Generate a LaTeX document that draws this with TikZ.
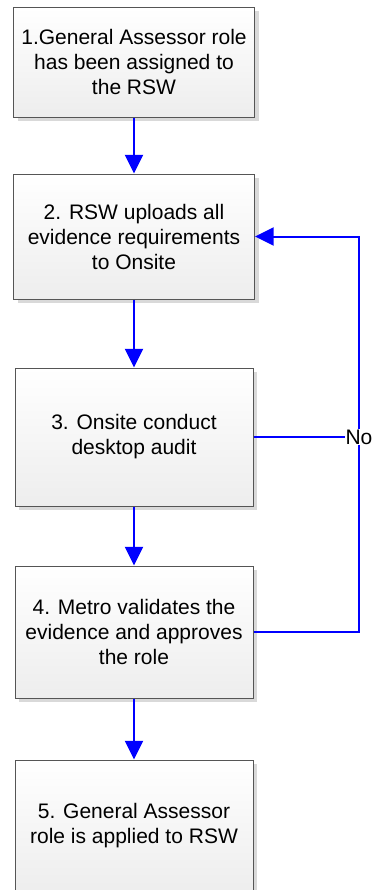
\documentclass[tikz,border=0pt]{standalone}
\usepackage{fontspec}
\setmainfont{Liberation Sans}
\usepackage{tikz}
\usetikzlibrary{arrows.meta,shadows}
\definecolor{boxline}{RGB}{85,85,85}
\definecolor{flowblue}{RGB}{0,0,255}

\begin{document}
\begin{tikzpicture}[x=0.75pt,y=-0.75pt,
  stepbox/.style={draw=boxline,line width=0.75pt,top color=white,bottom color=black!7,
    drop shadow={shadow xshift=3pt,shadow yshift=-3pt,fill=black!15,opacity=1},
    align=center,inner sep=0pt,font=\fontsize{15.75}{18.75}\selectfont},
  flow/.style={draw=flowblue,line width=1.5pt,-{Triangle[length=14pt,width=13.5pt]}}]
\useasboundingbox (0,0) rectangle (374,890);
  \node[stepbox,minimum width=180.75pt,minimum height=82.5pt] (s1) at (134,62)
    {1.General Assessor role\\has been assigned to\\the RSW};
  \node[stepbox,minimum width=180.75pt,minimum height=93.75pt] (s2) at (134,236.5)
    {2. RSW uploads all\\evidence requirements\\to Onsite};
  \node[stepbox,minimum width=178.5pt,minimum height=103.5pt] (s3) at (134,437)
    {3. Onsite conduct\\desktop audit};
  \node[stepbox,minimum width=178.5pt,minimum height=99pt] (s4) at (134,632)
    {4. Metro validates the\\evidence and approves\\the role};
  \node[stepbox,minimum width=178.5pt,minimum height=99pt] (s5) at (134,826)
    {5. General Assessor\\role is applied to RSW};
  \node[fill=white,inner sep=0pt,font=\fontsize{15.75}{18.75}\selectfont] (no) at (359,437) {No};
  % main flow
  \draw[flow] (s1) -- (s2);
  \draw[flow] (s2) -- (s3);
  \draw[flow] (s3) -- (s4);
  \draw[flow] (s4) -- (s5);
  % back to step 2
  \draw[flow,-] (s3.east) -- (no.west);
  \draw[flow,-] (s4.east) -| (no.south);
  \draw[flow] (no.north) |- (s2.east);
\end{tikzpicture}
\end{document}
